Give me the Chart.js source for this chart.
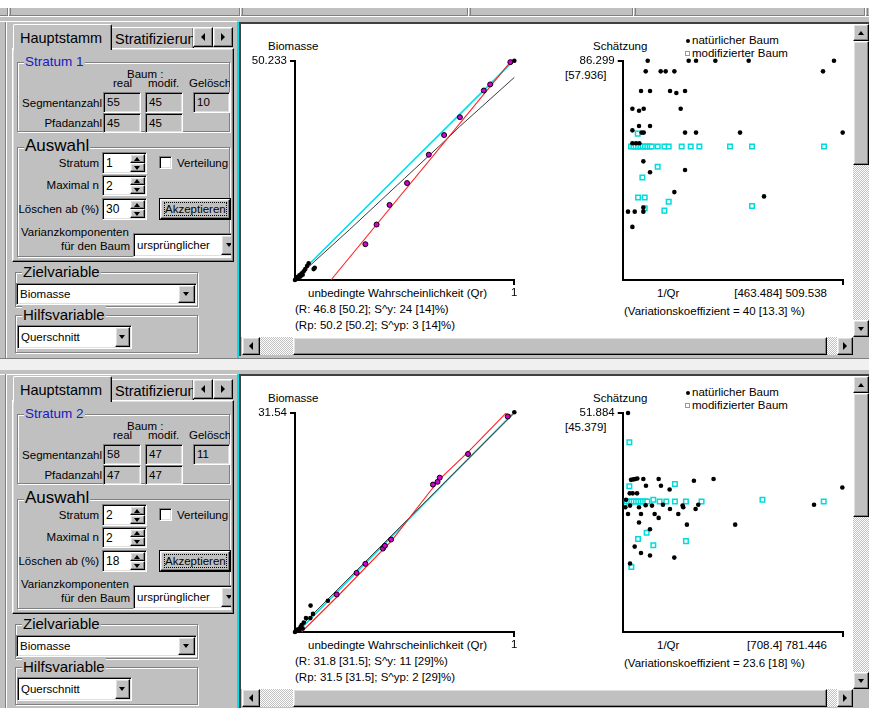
<!DOCTYPE html>
<html><head><meta charset="utf-8"><title>Biomasse</title>
<script src="https://cdn.jsdelivr.net/npm/chart.js@4.4.1/dist/chart.umd.min.js"></script>
<style>
*{box-sizing:border-box}
html,body{margin:0;padding:0}
body{width:869px;height:708px;overflow:hidden;background:#fff;position:relative;font-family:"Liberation Sans",Arial,Helvetica,sans-serif;color:#000}
.a{position:absolute}
.t{position:absolute;white-space:nowrap}
.gy{background:#c0c0c0}
.rs{background:#c0c0c0;border-style:solid;border-width:1px;border-color:#fff #000 #000 #fff;box-shadow:inset -1px -1px #808080,inset 1px 1px #dfdfdf}
.sk{border-style:solid;border-width:1px;border-color:#808080 #fff #fff #808080;box-shadow:inset 1px 1px #000,inset -1px -1px #dfdfdf}
.grp{border:1px solid #808080;box-shadow:inset 1px 1px #fff,1px 1px #fff}
.dz{background-color:#c0c0c0;background-image:repeating-conic-gradient(#c0c0c0 0 25%,#fff 0 50%);background-size:2px 2px}
.tri{position:absolute;width:0;height:0;box-sizing:content-box}
canvas{position:absolute}
</style></head><body>
<script>
// ---------------- data: Stratum 1 ----------------
const s1BioMax = 50.233;
const s1BioTicks = ['50.233'];
const s1QrTicks = ['1'];
const s1PathQr  = [0.321, 0.372, 0.431, 0.511, 0.610, 0.680, 0.752, 0.861, 0.890, 0.982];
const s1PathBio = [8.2, 12.7, 17.2, 22.2, 28.7, 33.2, 37.3, 43.4, 44.8, 49.9];
const s1SegQr   = [0, 0.005, 0.01, 0.015, 0.02, 0.025, 0.03, 0.035, 0.04, 0.047, 0.055, 0.062, 0.085, 0.09, 1.0];
const s1SegBio  = [0, 0.4, 0.7, 0.3, 1.1, 0.8, 1.5, 1.2, 2.0, 2.5, 3.2, 3.8, 2.5, 2.8, 50.23];
const s1CyanQr  = [0, 0.99];
const s1CyanBio = [0.4, 49.9];
const s1TrendQr  = [0, 0.25, 0.5, 0.68, 0.75, 1];
const s1TrendBio = [0.2, 11.6, 23.3, 31.7, 35.1, 46.4];
const s1RedQr  = [0.164, 0.99];
const s1RedBio = [0, 50.4];
const s1EstMax = 86.299;
const s1EstTicks = ['86.299'];
const s1InvQrMax = 509.538;
const s1NatInvQr = [57.8,152.6,169.6,214.3,291.4,488.7,53.2,87.9,99.4,119.5,463.3,42.4,63.2,109.5,124.1,144.2,22.4,37.8,48.6,134.1,22.4,37.8,43.9,48.6,63.2,144.2,169.6,271.4,508.8,22.4,30.8,38.5,47.8,63.2,144.2,119.5,326.9,12.3,27.8,47.8,47.8,22.4];
const s1NatEst   = [86.3,86.3,86.3,86.3,86.3,86.3,82.1,82.1,82.1,82.1,82.1,74.4,74.4,74.4,73.6,74.4,67.4,66.6,67.4,67.4,58.9,60.6,58.0,58.0,60.6,58.0,58.0,58.0,58.0,53.8,53.8,53.8,46.7,42.4,43.3,34.6,32.9,26.9,26.9,26.9,28.5,20.9];
const s1ModInvQr = [34.7,19.3,24.7,30.1,35.5,40.9,46.3,51.6,57.0,62.4,67.1,80.9,96.4,106.4,136.4,157.3,177.3,248.2,299.1,465.6,80.9,45.5,35.5,50.9,106.4,50.9,96.4,299.1];
const s1ModEst   = [57.6,52.5,52.5,52.5,52.5,52.5,52.5,52.5,52.5,52.5,52.5,52.5,52.5,52.5,52.5,52.5,52.5,52.5,52.5,52.5,44.6,40.3,32.5,32.5,30.8,28.2,27.3,29.1];

// ---------------- data: Stratum 2 ----------------
const s2BioMax = 31.54;
const s2BioTicks = ['31.54'];
const s2QrTicks = ['1'];
const s2PathQr  = [0.190, 0.281, 0.321, 0.401, 0.410, 0.438, 0.629, 0.650, 0.660, 0.789, 0.970];
const s2PathBio = [5.4, 8.5, 9.8, 12.0, 12.4, 13.3, 21.2, 21.6, 22.2, 25.6, 31.0];
const s2SegQr   = [0, 0.005, 0.01, 0.015, 0.02, 0.025, 0.03, 0.035, 0.04, 0.05, 0.07, 0.082, 0.071, 0.15, 1.0];
const s2SegBio  = [0, 0.15, 0.3, 0.4, 0.2, 0.7, 1.0, 0.5, 1.35, 2.0, 2.0, 2.6, 3.8, 4.5, 31.6];
const s2CyanQr  = [0.03, 0.99];
const s2CyanBio = [0.6, 31.3];
const s2TrendQr  = [0, 1];
const s2TrendBio = [0, 31.5];
const s2RedQr  = [0.03, 0.19, 0.44, 0.66, 0.79, 0.96, 0.99];
const s2RedBio = [0, 5.0, 13.1, 22.0, 25.9, 31.4, 31.1];
const s2EstMax = 51.884;
const s2EstTicks = ['51.884'];
const s2InvQrMax = 781.446;
const s2NatInvQr = [18.9,29.5,37.8,44.8,51.9,73.2,127.5,252.6,322.3,82.6,135.7,166.4,779.1,24.8,35.4,50.8,11.8,9.4,26,57.8,81.4,103.9,142.8,167.6,212.5,214.8,258.5,268,678.7,18.9,64.9,113.3,127.5,197.1,57.8,227.8,399,96.8,42.5,64.9,96.8,183,26];
const s2NatEst   = [51.8,36.0,36.1,36.2,36.3,36.2,36.2,35.8,36.2,34.6,34.6,33.7,34.2,32.8,32.8,32.8,31.3,29.5,29.9,29.5,30.0,29.9,30.1,29.1,29.9,29.5,29.1,30.1,30.1,27.9,27.9,27.9,27.0,27.9,25.9,25.4,25.4,24.3,20.2,18.7,18.1,17.6,16.2];
const s2ModInvQr = [23.6,23.6,185.3,14.2,22.3,30.5,38.8,47.0,55.3,63.5,71.8,80.0,87.3,108.6,131,154.6,185.3,224.3,279.8,495.8,713,85,54.3,108.6,224.3,30.7];
const s2ModEst   = [44.9,34.5,35.0,30.9,30.9,30.9,30.9,30.9,30.9,30.9,30.9,30.9,30.9,31.3,30.9,30.9,30.9,30.9,30.9,31.3,30.9,23.5,22.0,20.5,21.5,15.4];

// ---------------- texts ----------------
const uiStratumTitle = ['Stratum 1', 'Stratum 2'];
const uiSegReal  = ['55', '58'];
const uiSegMod   = ['45', '47'];
const uiDeleted  = ['10', '11'];
const uiPathReal = ['45', '47'];
const uiPathMod  = ['45', '47'];
const uiStratum  = ['1', '2'];
const uiMaxN     = ['2', '2'];
const uiDelFrom  = ['30', '18'];
const txtR   = ['(R: 46.8 [50.2]; S^y: 24 [14]%)', '(R: 31.8 [31.5]; S^y: 11 [29]%)'];
const txtRp  = ['(Rp: 50.2 [50.2]; S^yp: 3 [14]%)', '(Rp: 31.5 [31.5]; S^yp: 2 [29]%)'];
const txtEst2 = ['[57.936]', '[45.379]'];
const txtXMax = ['[463.484] 509.538', '[708.4] 781.446'];
const txtVK  = ['(Variationskoeffizient = 40 [13.3] %)', '(Variationskoeffizient = 23.6 [18] %)'];

const FONT = '"Liberation Sans", Arial, Helvetica, sans-serif';
const B = document.body;

function el(p, x, y, w, h, cls, css) {
  const d = document.createElement('div');
  d.className = 'a ' + (cls || '');
  d.style.left = x + 'px'; d.style.top = y + 'px';
  if (w != null) d.style.width = w + 'px';
  if (h != null) d.style.height = h + 'px';
  if (css) d.style.cssText += css;
  p.appendChild(d);
  return d;
}
function text(p, x, cy, s, size, css) {
  const lh = Math.round(size * 1.2);
  const d = document.createElement('div');
  d.className = 't';
  d.style.cssText = `left:${x}px;top:${cy - lh / 2}px;font-size:${size}px;line-height:${lh}px;` + (css || '');
  d.textContent = s;
  p.appendChild(d);
  return d;
}
function textR(p, r, cy, s, size, css) {
  const d = text(p, 0, cy, s, size, css);
  d.style.left = ''; d.style.right = (869 - r) + 'px';
  return d;
}
function tri(p, cx, cy, dir, w, h) {
  const d = document.createElement('div');
  d.className = 'tri';
  let c = '';
  if (dir === 'down') c = `left:${cx - w / 2}px;top:${cy - h / 2}px;border-left:${w / 2}px solid transparent;border-right:${w / 2}px solid transparent;border-top:${h}px solid #000;`;
  if (dir === 'up') c = `left:${cx - w / 2}px;top:${cy - h / 2}px;border-left:${w / 2}px solid transparent;border-right:${w / 2}px solid transparent;border-bottom:${h}px solid #000;`;
  if (dir === 'left') c = `left:${cx - w / 2}px;top:${cy - h / 2}px;border-top:${h / 2}px solid transparent;border-bottom:${h / 2}px solid transparent;border-right:${w}px solid #000;`;
  if (dir === 'right') c = `left:${cx - w / 2}px;top:${cy - h / 2}px;border-top:${h / 2}px solid transparent;border-bottom:${h / 2}px solid transparent;border-left:${w}px solid #000;`;
  d.style.cssText = c;
  p.appendChild(d);
  return d;
}
function btn(p, x, y, w, h, dir) {
  const d = el(p, x, y, w, h, 'rs');
  tri(d, w / 2 - 1, h / 2 - 1, dir, (dir === 'left' || dir === 'right') ? 4 : 7, (dir === 'left' || dir === 'right') ? 8 : 4);
  return d;
}
function field(p, x, y, w, h, val, bg) {
  const d = el(p, x, y, w, h, 'sk', `background:${bg || '#c0c0c0'};overflow:hidden`);
  text(d, 3, 8.5, val, 11.5);
  return d;
}
function spin(p, x, y, w, h, val) {
  const d = el(p, x, y, w, h, 'sk', 'background:#fff');
  text(d, 3, h / 2 - 1, val, 12);
  const bh = Math.floor((h - 4) / 2);
  const u = el(d, w - 18, 1, 15, bh, 'rs');
  tri(u, 6.5, bh / 2 - 1, 'up', 7, 4);
  const dn = el(d, w - 18, 1 + bh, 15, h - 4 - bh, 'rs');
  tri(dn, 6.5, (h - 4 - bh) / 2 - 1, 'down', 7, 4);
}
function combo(p, x, y, w, h, val, bw) {
  const d = el(p, x, y, w, h, 'sk', 'background:#fff;overflow:hidden');
  text(d, 3, h / 2 - 1, val, 11.5);
  btn(d, w - bw - 3, 1, bw, h - 4, 'down');
  return d;
}

// ---------------- top strip ----------------
el(B, 0, 8, 869, 10, 'gy');
el(B, 0, 15, 869, 1, '', 'background:#808080');
el(B, 0, 16, 869, 1, '', 'background:#fff');
[7, 239, 467, 632, 864].forEach(x => {
  el(B, x, 8, 1, 8, '', 'background:#808080');
  el(B, x + 1, 8, 1, 8, '', 'background:#fff');
  el(B, x + 3, 8, 1, 8, '', 'background:#808080');
});
el(B, 0, 358, 869, 1, '', 'background:#808080');
el(B, 0, 359, 869, 11, '', 'background:#f0f0f0');

// ---------------- panels ----------------
function panel(i) {
  const dy = i * 352;
  el(B, 0, i ? 370 : 18, 869, i ? 338 : 340, 'gy');
  el(B, 0, 21 + dy + (i ? 1 : 0), 237, 1, '', 'background:#fff');
  el(B, 5, 22 + dy, 1, 336, '', 'background:#808080');
  el(B, 6, 22 + dy, 1, 336, '', 'background:#fff');

  // tab control
  el(B, 12, 48 + dy, 222, 214, 'rs');
  const t1 = el(B, 13, 24 + dy, 99, 26, '', 'background:#c0c0c0;border-style:solid;border-width:1px 1px 0 1px;border-color:#fff #000 #000 #fff;box-shadow:inset -1px 0 #808080;border-top-left-radius:2px;border-top-right-radius:2px;z-index:2');
  text(t1, 6, 13, 'Hauptstamm', 14.5);
  const t2 = el(B, 112, 27 + dy, 82, 21, '', 'background:#c0c0c0;border-style:solid;border-width:1px 1px 0 0;border-color:#fff #000 #000 #fff;box-shadow:inset -1px 0 #808080;overflow:hidden');
  text(t2, 3, 11, 'Stratifizierung', 14.5);
  btn(B, 193, 27 + dy, 20, 20, 'left');
  btn(B, 213, 27 + dy, 20, 20, 'right');

  // Stratum group
  el(B, 17, 62 + dy, 213, 70, 'grp');
  text(B, 24, 62 + dy, uiStratumTitle[i], 13.5, 'background:#c0c0c0;padding:0 1px;color:#1818c8');
  text(B, 127, 74 + dy, 'Baum :', 11.5);
  text(B, 113, 83 + dy, 'real', 11.5);
  text(B, 148, 83 + dy, 'modif.', 11.5);
  const gc = el(B, 189, 76 + dy, 41, 15, '', 'overflow:hidden');
  text(gc, 0, 7, 'Gelöscht', 11.5);
  textR(B, 102, 103 + dy, 'Segmentanzahl', 11.5);
  textR(B, 102, 123 + dy, 'Pfadanzahl', 11.5);
  field(B, 103, 92 + dy, 38, 21, uiSegReal[i]);
  field(B, 145, 92 + dy, 38, 21, uiSegMod[i]);
  field(B, 193, 92 + dy, 37, 21, uiDeleted[i]);
  field(B, 103, 113 + dy, 38, 20, uiPathReal[i]);
  field(B, 145, 113 + dy, 38, 20, uiPathMod[i]);

  // Auswahl group
  el(B, 17, 147 + dy, 213, 110, 'grp');
  text(B, 24, 146 + dy, 'Auswahl', 17, 'background:#c0c0c0;padding:0 1px');
  textR(B, 99, 163 + dy, 'Stratum', 11.5);
  spin(B, 102, 152 + dy, 45, 22, uiStratum[i]);
  el(B, 159, 156 + dy, 13, 13, 'sk', 'background:#fff');
  text(B, 177, 163 + dy, 'Verteilung', 11.5);
  textR(B, 99, 185 + dy, 'Maximal n', 11.5);
  spin(B, 102, 175 + dy, 45, 21, uiMaxN[i]);
  textR(B, 99, 209 + dy, 'Löschen ab (%)', 11.5);
  spin(B, 102, 198 + dy, 45, 22, uiDelFrom[i]);
  const bo = el(B, 159, 198 + dy, 72, 22, '', 'border:1px solid #000');
  const bi = el(bo, 0, 0, 70, 20, 'rs');
  text(bi, 3, 9, 'Akzeptieren', 11.5, 'outline:1px dotted #000;outline-offset:-1px;padding:0 1px');
  text(B, 21, 232 + dy, 'Varianzkomponenten', 11.5);
  textR(B, 130, 246 + dy, 'für den Baum', 11.5);
  const cc = el(B, 133, 233 + dy, 98, 24, '', 'overflow:hidden');
  combo(cc, 0, 0, 106, 24, 'ursprünglicher', 16);

  // Ziel / Hilfs
  el(B, 15, 272 + dy, 183, 35, 'grp');
  text(B, 22, 272 + dy, 'Zielvariable', 15, 'background:#c0c0c0;padding:0 1px');
  combo(B, 16, 283 + dy, 181, 22, 'Biomasse', 17);
  el(B, 15, 315 + dy, 183, 38, 'grp');
  text(B, 22, 315 + dy, 'Hilfsvariable', 15, 'background:#c0c0c0;padding:0 1px');
  combo(B, 17, 325 + dy, 115, 24, 'Querschnitt', 15);

  // splitter + chart frame
  el(B, 237, 22 + dy, 2, 336, '', 'background:#00e0e8');
  el(B, 239, 22 + dy, 630, 2, '', 'background:#404040');
  el(B, 239, 22 + dy, 2, 334, '', 'background:#404040');
  el(B, 241, 24 + dy, 612, 313, '', 'background:#fff');
  // vertical scrollbar
  btn(B, 853, 24 + dy, 16, 17, 'up');
  el(B, 853, 41 + dy, 16, 124, 'rs');
  el(B, 853, 165 + dy, 16, 155, 'dz');
  btn(B, 853, 320 + dy, 16, 17, 'down');
  // horizontal scrollbar
  btn(B, 242, 337 + dy, 18, 18, 'left');
  el(B, 260, 337 + dy, 33, 18, 'dz');
  el(B, 293, 337 + dy, 534, 18, 'rs');
  el(B, 827, 337 + dy, 10, 18, 'dz');
  btn(B, 837, 337 + dy, 16, 18, 'right');
  el(B, 853, 337 + dy, 16, 18, 'gy');

  // chart texts
  text(B, 268, 46 + dy, 'Biomasse', 11.5);
  text(B, 308, 293 + dy, 'unbedingte Wahrscheinlichkeit (Qr)', 11.5);
  text(B, 295, 309 + dy, txtR[i], 11.5);
  text(B, 295, 325 + dy, txtRp[i], 11.5);
  text(B, 593, 46 + dy, 'Schätzung', 11.5);
  text(B, 565, 75 + dy, txtEst2[i], 11.5);
  el(B, 685.5, 38.5 + dy, 4, 4, '', 'background:#000;border-radius:50%');
  text(B, 692, 40 + dy, 'natürlicher Baum', 11.5);
  el(B, 685, 51 + dy, 5, 5, '', 'border:1.5px solid #00dcdc;background:#fff');
  text(B, 692, 53 + dy, 'modifizierter Baum', 11.5);
  text(B, 657, 293 + dy, '1/Qr', 11.5);
  textR(B, 827, 293 + dy, txtXMax[i], 11.5);
  text(B, 624, 311 + dy, txtVK[i], 11.5);
}
panel(0);
panel(1);

// ---------------- charts ----------------
Chart.defaults.font.family = FONT;
Chart.defaults.font.size = 11.5;
Chart.defaults.color = '#000';
const pts = (xs, ys) => xs.map((x, k) => ({ x: x, y: ys[k] }));

function axis(max, label, fit, horiz) {
  return {
    type: 'linear', min: 0, max: max,
    afterBuildTicks: s => { s.ticks = [{ value: max }]; },
    afterFit: s => { if (horiz) s.height = fit; else s.width = fit; },
    ticks: { autoSkip: false, maxRotation: 0, color: '#000', padding: horiz ? 1 : 3, callback: () => label },
    grid: { display: true, drawOnChartArea: false, drawTicks: true, tickLength: 5, color: '#000', lineWidth: 2 },
    border: { display: true, color: '#000', width: 2 }
  };
}
function makeCanvas(x, y, w, h) {
  const c = document.createElement('canvas');
  c.width = w; c.height = h;
  c.style.left = x + 'px'; c.style.top = y + 'px';
  c.style.width = w + 'px'; c.style.height = h + 'px';
  B.appendChild(c);
  return c;
}
function baseOpts(pad, xs, ys) {
  return {
    responsive: false, animation: false, events: [], devicePixelRatio: 1,
    layout: { padding: pad },
    plugins: { legend: { display: false }, tooltip: { enabled: false } },
    scales: { x: xs, y: ys }
  };
}
function lineDs(xs, ys, color, width, order) {
  return { data: pts(xs, ys), showLine: true, borderColor: color, borderWidth: width, pointRadius: 0, tension: 0, clip: false, order: order };
}
function qrChart(dy, bioMax, bioTick, qrTick, pq, pb, sq, sb, cq, cb, tq, tb, rq, rb) {
  const c = makeCanvas(245, 30 + dy, 290, 280);
  new Chart(c, {
    type: 'scatter',
    data: { datasets: [
      { data: pts(pq, pb), pointRadius: 2.5, pointBackgroundColor: '#d400d4', pointBorderColor: '#000', pointBorderWidth: 1, clip: false, order: 0 },
      { data: pts(sq, sb), pointRadius: 2.3, pointBackgroundColor: '#000', pointBorderColor: '#000', pointBorderWidth: 0, clip: false, order: 1 },
      lineDs(rq, rb, '#ff2020', 1.1, 2),
      lineDs(tq, tb, '#3a3a3a', 1, 3),
      lineDs(cq, cb, '#00e0e8', 1.6, 4)
    ] },
    options: baseOpts({ left: 0, top: 30.7, right: 20.7, bottom: 0 },
      axis(1, qrTick[0], 30, true), axis(bioMax, bioTick[0], 50, false))
  });
}
function estChart(dy, estMax, estTick, xMax, nx, ny, mx, my) {
  const c = makeCanvas(560, 30 + dy, 293, 280);
  new Chart(c, {
    type: 'scatter',
    data: { datasets: [
      { data: pts(nx, ny), pointRadius: 2.3, pointBackgroundColor: '#000', pointBorderWidth: 0, clip: false, order: 0 },
      { data: pts(mx, my), pointStyle: 'rect', pointRadius: 3.2, pointBackgroundColor: '#fff', pointBorderColor: '#00dcdc', pointBorderWidth: 1.5, clip: false, order: 1 }
    ] },
    options: baseOpts({ left: 0, top: 30.7, right: 10, bottom: 0 },
      axis(xMax, '', 30, true), axis(estMax, estTick[0], 62.7, false))
  });
}
qrChart(0, s1BioMax, s1BioTicks, s1QrTicks, s1PathQr, s1PathBio, s1SegQr, s1SegBio, s1CyanQr, s1CyanBio, s1TrendQr, s1TrendBio, s1RedQr, s1RedBio);
estChart(0, s1EstMax, s1EstTicks, s1InvQrMax, s1NatInvQr, s1NatEst, s1ModInvQr, s1ModEst);
qrChart(352, s2BioMax, s2BioTicks, s2QrTicks, s2PathQr, s2PathBio, s2SegQr, s2SegBio, s2CyanQr, s2CyanBio, s2TrendQr, s2TrendBio, s2RedQr, s2RedBio);
estChart(352, s2EstMax, s2EstTicks, s2InvQrMax, s2NatInvQr, s2NatEst, s2ModInvQr, s2ModEst);
</script>
</body></html>
